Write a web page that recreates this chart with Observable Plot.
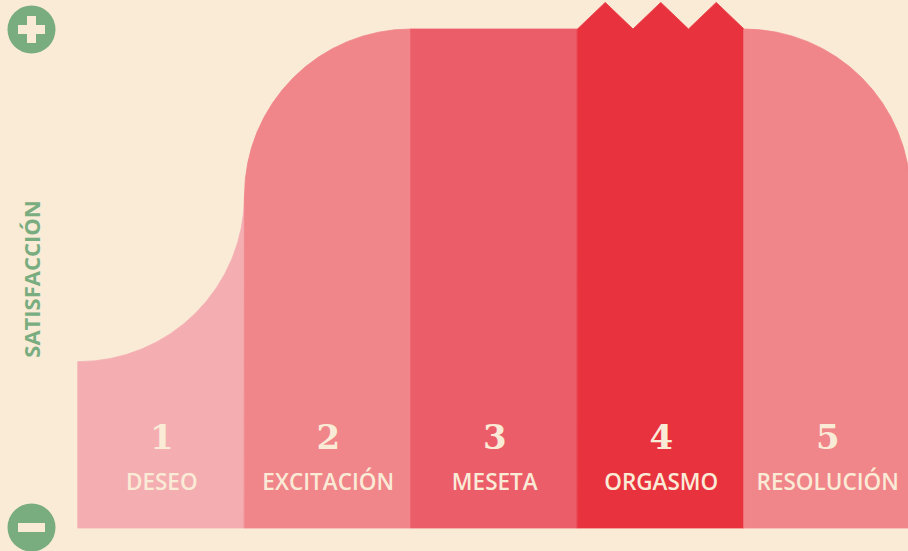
<!DOCTYPE html>
<html><head><meta charset="utf-8">
<script src="https://cdn.jsdelivr.net/npm/d3@7"></script>
<script src="https://cdn.jsdelivr.net/npm/@observablehq/plot@0.6"></script>
<style>
html,body{margin:0;padding:0;background:#FAEBD7;overflow:hidden}
#chart svg{overflow:hidden;display:block}
</style></head><body><div id="chart"></div>
<script>
// ---- data ----
const stages = ["DESEO", "EXCITACIÓN", "MESETA", "ORGASMO", "RESOLUCIÓN"];
const stageNumbers = ["1", "2", "3", "4", "5"];
const startLevel = [1, 2, 3, 3, 3];   // satisfaction at start of each stage
const endLevel   = [2, 3, 3, 3, 2];   // satisfaction at end of each stage
const orgasmoPeaks = [3, 3.16, 3, 3.16, 3, 3.16, 3]; // zigzag crown of stage 4
const axisLabel = "SATISFACCIÓN";

// ---- styles ----
const cream = "#FAEBD7";
const green = "#79AD80";
const fills = ["#F4AEB2", "#F0858A", "#EC5D6A", "#E8333F", "#F0858A"];

// custom curve: quarter-circle arc on the top line between two points
function cornerCurve(horizontalFirst) {
  return function(context) {
    let line = NaN, pts = [], idx = 0;
    return {
      areaStart() { line = 0; idx = 0; },
      areaEnd() { line = NaN; },
      lineStart() { pts = []; },
      point(x, y) { pts.push([+x, +y]); },
      lineEnd() {
        pts.forEach((p, i) => {
          if (i === 0) { line ? context.lineTo(p[0], p[1]) : context.moveTo(p[0], p[1]); return; }
          const [x0, y0] = pts[i - 1], [x1, y1] = p;
          if (idx === 0 && x0 !== x1 && y0 !== y1) {
            const cx = horizontalFirst ? x1 : x0, cy = horizontalFirst ? y0 : y1;
            const r = Math.min(Math.abs(x1 - x0), Math.abs(y1 - y0));
            context.arcTo(cx, cy, x1, y1, r);
            context.lineTo(x1, y1);
          } else context.lineTo(x1, y1);
        });
        if (line || (line !== 0 && pts.length === 1)) context.closePath();
        line = 1 - line; idx++;
      }
    };
  };
}
const curves = [cornerCurve(true), cornerCurve(false), "linear", "linear", cornerCurve(true)];

const minusSymbol = {
  draw(ctx, size) {
    const r = Math.sqrt(size / Math.PI);
    const w = r * 1.19, h = r * 0.396;
    ctx.moveTo(-w, -h); ctx.lineTo(w, -h); ctx.lineTo(w, h); ctx.lineTo(-w, h); ctx.closePath();
  }
};

const stageData = stages.map((s, i) =>
  i === 3
    ? orgasmoPeaks.map((v, k) => ({x: i + k / (orgasmoPeaks.length - 1), y: v}))
    : [{x: i, y: startLevel[i]}, {x: i + 1, y: endLevel[i]}]
);

const chart = Plot.plot({
  width: 908,
  height: 551,
  marginLeft: 78,
  marginRight: 0,
  marginTop: 29,
  marginBottom: 23,
  style: {background: cream, overflow: "hidden"},
  x: {domain: [0, 4.985], axis: null},
  y: {domain: [0, 3], axis: null},
  marks: [
    ...stageData.map((data, i) => Plot.areaY(data, {
      x: "x", y: "y", fill: fills[i], stroke: fills[i], strokeWidth: 0.8, curve: curves[i]
    })),
    Plot.text(stageNumbers, {
      x: (d, i) => i + 0.5, y: 0, text: d => d, dy: -90,
      fill: cream, fontSize: 34, fontWeight: "bold", fontFamily: "DejaVu Serif"
    }),
    Plot.text(stages, {
      x: (d, i) => i + 0.5, y: 0, text: d => d, dy: -46,
      fill: cream, fontSize: 22.5, fontWeight: 600, fontFamily: "Open Sans"
    }),
    Plot.text([axisLabel], {
      frameAnchor: "left", textAnchor: "middle", dx: -46, rotate: -90, text: d => d,
      fill: green, fontSize: 22, fontWeight: "bold", fontFamily: "Open Sans"
    }),
    Plot.dot([0], {frameAnchor: "top-left", dx: -47, dy: 0, r: 24, fill: green, stroke: null}),
    Plot.dot([0], {frameAnchor: "top-left", dx: -47, dy: 0, r: 11.35, symbol: "cross", fill: cream, stroke: null}),
    Plot.dot([0], {frameAnchor: "bottom-left", dx: -47, dy: -1, r: 24, fill: green, stroke: null}),
    Plot.dot([0], {frameAnchor: "bottom-left", dx: -47, dy: -1, r: 11.35, symbol: minusSymbol, fill: cream, stroke: null})
  ]
});
document.getElementById("chart").appendChild(chart);
</script>
</body></html>
